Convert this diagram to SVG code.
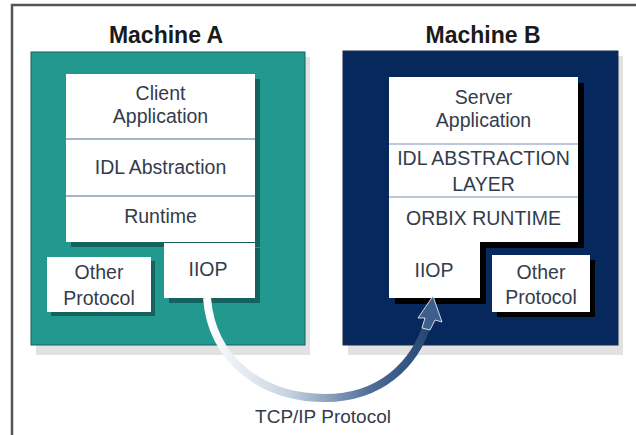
<svg xmlns="http://www.w3.org/2000/svg" width="636" height="435" viewBox="0 0 636 435">
<defs>
<style>
.t{font-family:"Liberation Sans",Arial,sans-serif;font-size:19.5px;fill:#333c4c;text-anchor:middle}
.h{font-family:"Liberation Sans",Arial,sans-serif;font-size:23px;font-weight:bold;fill:#1a1a1a;text-anchor:middle}
.box{fill:#ffffff}
.divA{stroke:#4f6f8f;stroke-width:1.2}
.divB{stroke:#7a90b8;stroke-width:1.2}
</style>
<linearGradient id="arrowGrad" x1="205" y1="0" x2="440" y2="0" gradientUnits="userSpaceOnUse">
<stop offset="0" stop-color="#ffffff"/>
<stop offset="0.35" stop-color="#c8d4e2"/>
<stop offset="0.7" stop-color="#4f6e98"/>
<stop offset="1" stop-color="#1e3f6e"/>
</linearGradient>
</defs>
<rect x="0" y="0" width="636" height="435" fill="#ffffff"/>
<path d="M12 440 V5 H640" fill="none" stroke="#555555" stroke-width="2.5"/>

<g id="machineA">
<rect x="36" y="57" width="274" height="298" fill="#e2e2e2"/>
<rect x="31" y="52" width="274" height="293" fill="#22998f" stroke="#16605c" stroke-width="1"/>
<text class="h" x="166" y="43">Machine A</text>
</g>
<g id="stackA">
<rect x="71" y="79" width="189" height="168" fill="#16625e"/>
<rect class="box" x="66" y="74" width="189" height="168"/>
<line class="divA" x1="66" y1="139" x2="255" y2="139"/>
<line class="divA" x1="66" y1="196" x2="255" y2="196"/>
<text class="t" x="160.5" y="100">Client</text>
<text class="t" x="160.5" y="123">Application</text>
<text class="t" x="160.5" y="174">IDL Abstraction</text>
<text class="t" x="160.5" y="223">Runtime</text>
</g>
<g id="iiopA">
<rect x="169" y="248" width="91" height="55" fill="#16625e"/>
<rect class="box" x="164" y="243" width="91" height="55"/>
<text class="t" x="208" y="276">IIOP</text>
</g>
<g id="otherA">
<rect x="51" y="261" width="104" height="55" fill="#16625e"/>
<rect class="box" x="47" y="257" width="104" height="55"/>
<text class="t" x="99" y="279">Other</text>
<text class="t" x="99" y="305">Protocol</text>
</g>

<g id="machineB">
<rect x="348" y="56" width="275" height="299" fill="#e2e2e2"/>
<rect x="343" y="51" width="275" height="294" fill="#06285c" stroke="#1a2a4a" stroke-width="1"/>
<text class="h" x="483" y="43">Machine B</text>
</g>
<g id="stackB">
<rect x="395" y="83" width="189" height="165" fill="#000000"/>
<rect class="box" x="389" y="77" width="189" height="165"/>
<line class="divB" x1="389" y1="144" x2="578" y2="144"/>
<line class="divB" x1="389" y1="197" x2="578" y2="197"/>
<text class="t" x="483.5" y="104">Server</text>
<text class="t" x="483.5" y="127">Application</text>
<text class="t" x="483.5" y="165">IDL ABSTRACTION</text>
<text class="t" x="483.5" y="191">LAYER</text>
<text class="t" x="483.5" y="225">ORBIX RUNTIME</text>
</g>
<g id="iiopB">
<rect x="395" y="248" width="91" height="56" fill="#000000"/>
<rect class="box" x="389" y="242" width="91" height="56"/>
<text class="t" x="434" y="277">IIOP</text>
</g>
<g id="otherB">
<rect x="497" y="260" width="98" height="57" fill="#000000"/>
<rect class="box" x="492" y="255" width="98" height="57"/>
<text class="t" x="541" y="279">Other</text>
<text class="t" x="541" y="304">Protocol</text>
</g>

<g id="connectors">
<path d="M207 298 C212 360 262 398 325 398 C380 398 415 365 428 322" fill="none" stroke="url(#arrowGrad)" stroke-width="8" stroke-linecap="butt"/>
<path d="M433 296 L442 322 L435 320 L430 330 L422 328 L425 318 L418 318 Z" fill="#3e5f8c" stroke="#ffffff" stroke-width="0.8"/>
<text class="t" x="323" y="423" style="font-size:19px">TCP/IP Protocol</text>
</g>
</svg>
